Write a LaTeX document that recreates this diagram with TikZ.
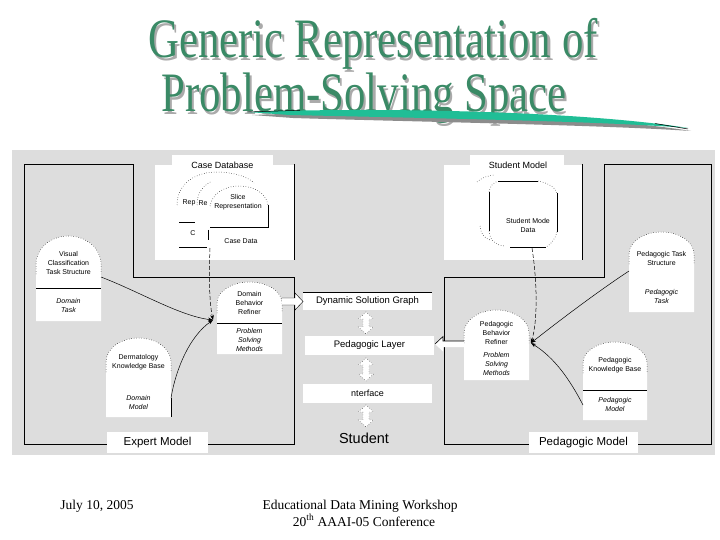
\documentclass[tikz,border=0pt]{standalone}
\usepackage{fontspec}
\setmainfont{Liberation Serif}
\setsansfont{Liberation Sans}
\usetikzlibrary{arrows.meta}
\definecolor{bggray}{RGB}{221,221,221}
\definecolor{titlegreen}{RGB}{58,138,102}
\definecolor{titleshadow}{RGB}{170,170,170}
\definecolor{swooshteal}{RGB}{32,190,150}
\definecolor{swooshshadow}{RGB}{140,140,140}
\tikzset{
  lbl/.style={font=\sffamily\fontsize{7}{9}\selectfont, align=center, inner sep=0pt},
  lbli/.style={font=\sffamily\itshape\fontsize{7}{9}\selectfont, align=center, inner sep=0pt},
  whitebox/.style={fill=white, draw=none, inner sep=0pt},
  outline/.style={draw=black, line width=0.8pt},
  archline/.style={draw=black, line width=0.5pt, dotted},
  thinline/.style={draw=black, line width=0.6pt},
  conn/.style={draw=black, line width=0.5pt, -{Stealth[length=5pt,width=3.6pt]}},
  dconn/.style={conn, dash pattern=on 4pt off 2pt},
  blockarrow/.style={fill=white, draw=black, line width=0.4pt},
  dblarrow/.style={fill=white, draw=black, line width=0.4pt, dotted},
  boxtext/.style={font=\sffamily\fontsize{9.5}{11}\selectfont},
  modeltext/.style={font=\sffamily\fontsize{11.5}{13}\selectfont},
  toptext/.style={font=\sffamily\fontsize{9}{10}\selectfont, inner sep=0pt},
  titletext/.style={font=\fontsize{42.8}{44}\selectfont, anchor=base, inner sep=0pt},
  foottext/.style={font=\fontsize{13.5}{15}\selectfont, anchor=base, inner sep=0pt},
}
% text with drop shadow in one box
\newcommand{\ShadowText}[1]{\scalebox{1}[1.3]{\makebox[0pt][l]{\hspace{2.2pt}\raisebox{-1.9pt}{\color{titleshadow}#1}}{\color{titlegreen}#1}}}
% x1, x2, ytop, yside, ybot
\newcommand{\ArchShape}[5]{%
  \pgfmathsetmacro{\ArcCx}{(#1+#2)/2}%
  \pgfmathsetmacro{\ArcKx}{0.552*(#2-#1)/2}%
  \pgfmathsetmacro{\ArcKy}{0.552*(#4-#3)}%
  \fill[white] (#1,#5) -- (#1,#4) .. controls (#1,#4-\ArcKy) and (\ArcCx-\ArcKx,#3) .. (\ArcCx,#3)
     .. controls (\ArcCx+\ArcKx,#3) and (#2,#4-\ArcKy) .. (#2,#4) -- (#2,#5) -- cycle;
  \draw[archline] (#1,#4+10) -- (#1,#4) .. controls (#1,#4-\ArcKy) and (\ArcCx-\ArcKx,#3) .. (\ArcCx,#3)
     .. controls (\ArcCx+\ArcKx,#3) and (#2,#4-\ArcKy) .. (#2,#4) -- (#2,#4+10);
}
% x, ytop, ybottom
\newcommand{\DblArr}[3]{%
  \filldraw[dblarrow] (#1-3,#2+7) -- (#1-7.5,#2+7) -- (#1,#2) -- (#1+7.5,#2+7) -- (#1+3,#2+7)
    -- (#1+3,#3-7) -- (#1+7.5,#3-7) -- (#1,#3) -- (#1-7.5,#3-7) -- (#1-3,#3-7) -- cycle;
}
\begin{document}
\begin{tikzpicture}[x=1pt,y=-1pt]
\useasboundingbox (0,0) rectangle (720,540);
\fill[white] (0,0) rectangle (720,540);

% ---------- title ----------
\node[titletext] (t1) at (373,57.7) {\ShadowText{Generic Representation of}};
\node[titletext] (t2) at (364,112) {\ShadowText{Problem-Solving Space}};
% swoosh
\fill[swooshshadow] (252,115) .. controls (385,110) and (585,114) .. (691,131)
   .. controls (603,125) and (423,122) .. (293,118) -- cycle;
\fill[swooshteal] (247,112) .. controls (380,107) and (580,111) .. (688,128)
   .. controls (600,121) and (420,118) .. (290,115) -- cycle;
\draw[line width=0.5pt] (247,112) -- (300,110.3);
\draw[line width=0.5pt] (655,123.5) -- (688,129);

% ---------- background ----------
\fill[bggray] (12,150) rectangle (715,455);

% ---------- outlines ----------
\draw[outline] (24,164) -- (133,164) -- (133,277) -- (294,277) -- (294,444) -- (24,444) -- cycle;
\draw[outline] (604,164) -- (711,164) -- (711,444) -- (444,444) -- (444,277) -- (604,277) -- cycle;

% ---------- Case Database ----------
\fill[white] (155,165) rectangle (294,260);
\fill[white] (172,155) rectangle (273,166);
\draw[outline] (294,164) -- (294,260);
\node[toptext] (cdb) at (222.5,165) {Case Database};
\draw[archline] (177,205) .. controls (177,186) and (192,173) .. (215,172) .. controls (232,172) and (247,176) .. (254,183);
\draw[archline] (197,205) .. controls (197,194) and (202,186) .. (212,181);
\node[lbl] (rep1) at (189,203) {Rep};
\node[lbl] (rep2) at (203,203) {Re};
\fill[white] (210,227) -- (210,205) .. controls (212,194) and (224,186) .. (239,186) .. controls (254,186) and (266,193) .. (268,205) -- (268,227) -- cycle;
\draw[archline] (210,206) .. controls (212,194) and (224,186) .. (239,186) .. controls (254,186) and (266,193) .. (268,205);
\draw[thinline] (268,205) -- (268,227) -- (210,227);
\node[lbl] (slice) at (238,202.5) {Slice\\Representation};
\draw[thinline] (179,222) -- (195,222);
\draw[thinline] (179,247) -- (207,247);
\draw[thinline] (208,230) -- (208,240);
\node[lbl] (cc) at (193,233) {C};
\node[lbl] (cdata) at (241,241) {Case Data};
\coordinate (cdbout) at (210,248);

% ---------- Student Model ----------
\fill[white] (444,165) rectangle (582,260);
\fill[white] (470,155) rectangle (564,166);
\draw[outline] (582,164) -- (582,260);
\node[toptext] (smt) at (518,165) {Student Model};
\draw[archline] (477,182) .. controls (481,178) and (487,176) .. (494,175);
\draw[archline] (480,226) .. controls (481,234) and (484,238) .. (490,240);
\draw[thinline] (498,181) -- (538,181);
\draw[archline] (538,181) .. controls (548,183) and (555,187) .. (557,193);
\draw[thinline] (557,193) -- (557,232);
\draw[archline] (557,232) .. controls (555,240) and (550,245) .. (546,247);
\draw[thinline] (510,247) -- (546,247);
\draw[archline] (489,231) .. controls (490,240) and (495,245) .. (504,246);
\draw[thinline] (489,192) -- (489,231);
\draw[archline] (489,192) .. controls (490,186) and (493,183) .. (498,181);
\node[lbl] (smd) at (528,225.5) {Student Mode\\Data};
\coordinate (smout) at (532,248);

% ---------- Expert side arch nodes ----------
\ArchShape{36}{101}{236}{264}{321}
\draw[thinline] (36,288) -- (101,288);
\node[lbl] (vis) at (68.5,263.3) {Visual\\Classification\\Task Structure};
\node[lbli] (dtask) at (68.5,305.5) {Domain\\Task};
\coordinate (visout) at (101,277);

\ArchShape{106}{171}{338}{362}{417}
\draw[thinline] (171,398) -- (171,417);
\node[lbl] (derm) at (138.5,362.5) {Dermatology\\Knowledge Base};
\node[lbli] (dmodel) at (138.5,402) {Domain\\Model};
\coordinate (dermout) at (171,398);

\ArchShape{217}{282}{282}{303}{354}
\draw[thinline] (217,323) -- (282,323);
\node[lbl] (dbr) at (249.5,303) {Domain\\Behavior\\Refiner};
\node[lbli] (dpsm) at (249.5,340) {Problem\\Solving\\Methods};
\coordinate (dbrtip) at (213,320);

% ---------- Pedagogic side arch nodes ----------
\ArchShape{464}{529}{310}{333}{380}
\node[lbl] (pbr) at (496.5,332.5) {Pedagogic\\Behavior\\Refiner};
\node[lbli] (ppsm) at (496.5,364) {Problem\\Solving\\Methods};
\coordinate (pbrtip) at (531,343);

\ArchShape{629}{694}{232}{254}{312}
\node[lbl] (pts) at (661.5,258) {Pedagogic Task\\Structure};
\node[lbli] (ptask) at (661.5,296) {Pedagogic\\Task};
\coordinate (ptout) at (629,271);

\ArchShape{583}{647}{342}{363}{420}
\draw[thinline] (583,390) -- (647,390);
\node[lbl] (pkb) at (615,365.5) {Pedagogic\\Knowledge Base};
\node[lbli] (pmodel) at (615,404) {Pedagogic\\Model};
\coordinate (pkbout) at (583,405);

% ---------- central column ----------
\node[whitebox, minimum width=129pt, minimum height=18pt, boxtext] (dsg) at (367.5,301) {Dynamic Solution Graph};
\draw[thinline] (dsg.north west) -- (dsg.north east);
\node[whitebox, minimum width=129pt, minimum height=19pt, boxtext] (pl) at (369.5,345.5) {Pedagogic Layer};
\node[whitebox, minimum width=129pt, minimum height=19pt, font=\sffamily\fontsize{9}{10}\selectfont] (intf) at (367.5,393.5) {nterface};
\node[font=\sffamily\fontsize{14.5}{16}\selectfont, inner sep=0pt] (stu) at (364,438) {Student};

\DblArr{366}{312}{334}
\DblArr{366}{358}{381}
\DblArr{366}{405}{427}

% block arrows
\filldraw[blockarrow] (282,298) -- (295,298) -- (295,293) -- (303,301.5) -- (295,310) -- (295,305) -- (282,305);
\fill[white] (464,341) -- (443,341) -- (443,336.5) -- (435,344) -- (443,351.5) -- (443,347) -- (464,347) -- cycle;
\draw[thinline] (464,341) -- (443,341) -- (443,336.5) -- (435,344);

% ---------- connectors ----------
\draw[conn] (visout) .. controls (140,292) and (180,316) .. (dbrtip);
\draw[conn] (dermout) .. controls (176,368) and (190,336) .. (dbrtip);
\draw[dconn] (cdbout) .. controls (209,275) and (209,300) .. (dbrtip);
\draw[conn] (ptout) .. controls (600,290) and (560,320) .. (pbrtip);
\draw[conn] (pkbout) .. controls (570,380) and (555,358) .. (pbrtip);
\draw[dconn] (smout) .. controls (537,280) and (538,320) .. (pbrtip);

% ---------- model labels ----------
\node[whitebox, minimum width=101pt, minimum height=21pt, modeltext] (em) at (157.5,442.5) {Expert Model};
\node[whitebox, minimum width=109pt, minimum height=21pt, modeltext] (pm) at (583.5,442.5) {Pedagogic Model};

% ---------- footer ----------
\node[foottext] (date) at (97,509.3) {July 10, 2005};
\node[foottext] (ws) at (360,509.3) {Educational Data Mining Workshop};
\node[foottext] (conf) at (364,526) {20\textsuperscript{th} AAAI-05 Conference};
\end{tikzpicture}
\end{document}
